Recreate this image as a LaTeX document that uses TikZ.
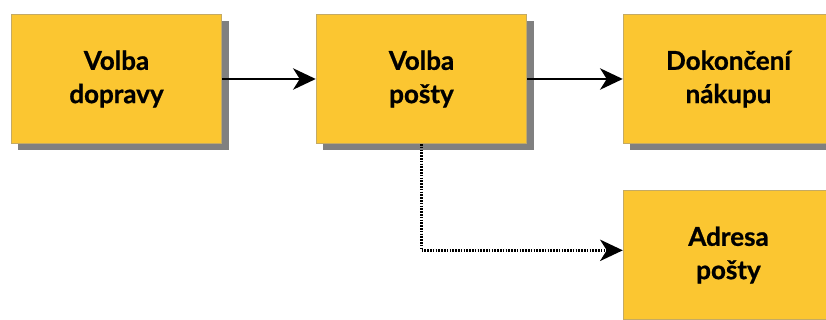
\documentclass[tikz,border=0pt]{standalone}
\usepackage{fontspec}
\setmainfont{Lato}[BoldFeatures={FakeBold=0.8}]
\usetikzlibrary{arrows.meta,shadows}
\definecolor{boxfill}{RGB}{251,198,49}
\definecolor{boxline}{RGB}{196,170,100}
\definecolor{shadowgray}{RGB}{128,128,128}
\tikzset{
    every node/.style={
        text=black
    },
    every path/.style={
        color=black,
        line width=1.8pt
    }
}
\tikzstyle{stage}=[draw=boxline, line width=0.6pt, fill=boxfill, align=center,
    minimum width=158pt, minimum height=97pt, inner sep=0pt,
    font=\fontsize{19.5pt}{25pt}\selectfont\bfseries,
    drop shadow={fill=shadowgray, opacity=1, shadow xshift=5pt, shadow yshift=-5pt}]
\tikzstyle{tip}=[-{Stealth[length=17pt, width=16pt, inset=5pt]}]

\begin{document}
\begin{tikzpicture}[x=0.75pt, y=-0.75pt]
\useasboundingbox (0,0) rectangle (826,320);

\node[stage] (DOP) at (116.5, 79) {Volba\\dopravy};
\node[stage] (POS) at (421.5, 79) {Volba\\pošty};
\node[stage] (NAK) at (728.5, 79) {Dokončení\\nákupu};
\node[stage] (ADR) at (728.5, 255) {Adresa\\pošty};

\path [tip] (DOP) edge (POS);
\path [tip] (POS) edge (NAK);
\draw [tip, dash pattern=on 1.2pt off 0.9pt] (POS.south) |- ([yshift=3.5pt]ADR.west);

\end{tikzpicture}
\end{document}
